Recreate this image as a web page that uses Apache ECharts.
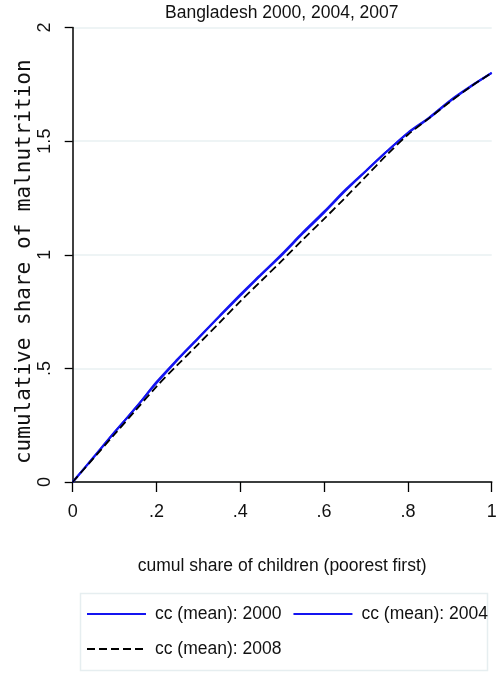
<!DOCTYPE html>
<html>
<head>
<meta charset="utf-8">
<script src="https://cdn.jsdelivr.net/npm/echarts@6/dist/echarts.min.js"></script>
<style>
  html, body { margin: 0; padding: 0; background: #ffffff; }
  #chart { width: 498px; height: 682px; }
</style>
</head>
<body>
<div id="chart"></div>
<script>
  // concentration curves, Bangladesh DHS rounds
  var FONT = '"Liberation Sans", Arial, sans-serif';

  var shareChildren = [0, 0.05, 0.1, 0.15, 0.2, 0.25, 0.3, 0.35, 0.4, 0.45, 0.5,
                       0.55, 0.6, 0.65, 0.7, 0.75, 0.8, 0.85, 0.9, 0.95, 1];
  var cc2000 = [0, 0.11, 0.22, 0.325, 0.44, 0.54, 0.635, 0.73, 0.825, 0.915, 1.005,
                1.1, 1.19, 1.285, 1.37, 1.455, 1.535, 1.6, 1.675, 1.74, 1.8];
  var cc2004 = [0, 0.108, 0.218, 0.327, 0.435, 0.537, 0.632, 0.728, 0.82, 0.912, 1.0,
                1.095, 1.185, 1.28, 1.368, 1.455, 1.537, 1.603, 1.678, 1.742, 1.8];
  var cc2008 = [0, 0.105, 0.21, 0.315, 0.42, 0.515, 0.607, 0.7, 0.795, 0.885, 0.975,
                1.068, 1.158, 1.25, 1.345, 1.44, 1.528, 1.6, 1.672, 1.74, 1.8];

  var seriesNames = ["cc (mean): 2000", "cc (mean): 2004", "cc (mean): 2008"];
  var xTickLabels = ["0", ".2", ".4", ".6", ".8", "1"];
  var yTickLabels = ["0", ".5", "1", "1.5", "2"];

  function pairs(ys) {
    return shareChildren.map(function (x, i) { return [x, ys[i]]; });
  }

  var chart = echarts.init(document.getElementById("chart"), null, { renderer: "canvas" });

  chart.setOption({
    backgroundColor: "#ffffff",
    animation: false,
    title: {
      text: "Bangladesh 2000, 2004, 2007",
      left: 165,
      top: 4,
      padding: 0,
      textStyle: { fontFamily: FONT, fontSize: 17.5, fontWeight: "normal", color: "#111111", lineHeight: 18 }
    },
    grid: { left: 72.7, right: 6.3, top: 27.5, bottom: 200, outerBoundsMode: "none", containLabel: false },
    xAxis: {
      type: "value",
      min: 0,
      max: 1,
      interval: 0.2,
      name: "cumul share of children (poorest first)",
      nameLocation: "middle",
      nameGap: 75,
      nameMoveOverlap: false,
      nameTextStyle: { fontFamily: FONT, fontSize: 17.5, color: "#111111" },
      axisLine: { show: true, lineStyle: { color: "#000000", width: 1.6 } },
      axisTick: { show: true, length: 10, lineStyle: { color: "#000000", width: 1.3 } },
      axisLabel: {
        margin: 21,
        fontFamily: FONT,
        fontSize: 18,
        color: "#111111",
        formatter: function (v) { return xTickLabels[Math.round(v / 0.2)]; }
      },
      splitLine: { show: false }
    },
    yAxis: {
      type: "value",
      min: 0,
      max: 2,
      interval: 0.5,
      name: "cumulative share of malnutrition",
      nameLocation: "middle",
      nameRotate: 90,
      nameGap: 38,
      nameMoveOverlap: false,
      nameTextStyle: { fontFamily: '"DejaVu Sans Mono", monospace', fontSize: 21, color: "#111111", padding: [0, 14, 0, 0] },
      axisLine: { show: true, lineStyle: { color: "#000000", width: 1.5 } },
      axisTick: { show: true, length: 8, lineStyle: { color: "#000000", width: 1.3 } },
      axisLabel: {
        rotate: 90,
        margin: 19,
        fontFamily: FONT,
        fontSize: 18,
        color: "#111111",
        formatter: function (v) { return yTickLabels[Math.round(v / 0.5)]; }
      },
      splitLine: { show: true, lineStyle: { color: "#e9f0f2", width: 1.5 } }
    },
    legend: {
      left: 86,
      top: 602,
      width: 410,
      orient: "horizontal",
      itemWidth: 59,
      itemHeight: 14,
      itemGap: 11,
      padding: 0,
      itemStyle: { opacity: 0 },
      textStyle: { fontFamily: FONT, fontSize: 17.5, color: "#111111", lineHeight: 24, padding: [0, 0, 0, 4] },
      data: seriesNames
    },
    graphic: [{
      type: "rect",
      left: 78,
      top: 591,
      shape: { width: 407, height: 77 },
      style: { fill: "none", stroke: "#e6eef0", lineWidth: 1.5 },
      silent: true
    }],
    series: [
      {
        name: seriesNames[0],
        type: "line",
        data: pairs(cc2000),
        symbol: "none",
        smooth: 0.3,
        lineStyle: { color: "#1414f0", width: 2 },
        itemStyle: { color: "#1414f0" }
      },
      {
        name: seriesNames[1],
        type: "line",
        data: pairs(cc2004),
        symbol: "none",
        smooth: 0.3,
        lineStyle: { color: "#1414f0", width: 2 },
        itemStyle: { color: "#1414f0" }
      },
      {
        name: seriesNames[2],
        type: "line",
        data: pairs(cc2008),
        symbol: "none",
        smooth: 0.3,
        lineStyle: { color: "#000000", width: 1.8, type: [8, 4] },
        itemStyle: { color: "#000000" }
      }
    ]
  });
</script>
</body>
</html>
